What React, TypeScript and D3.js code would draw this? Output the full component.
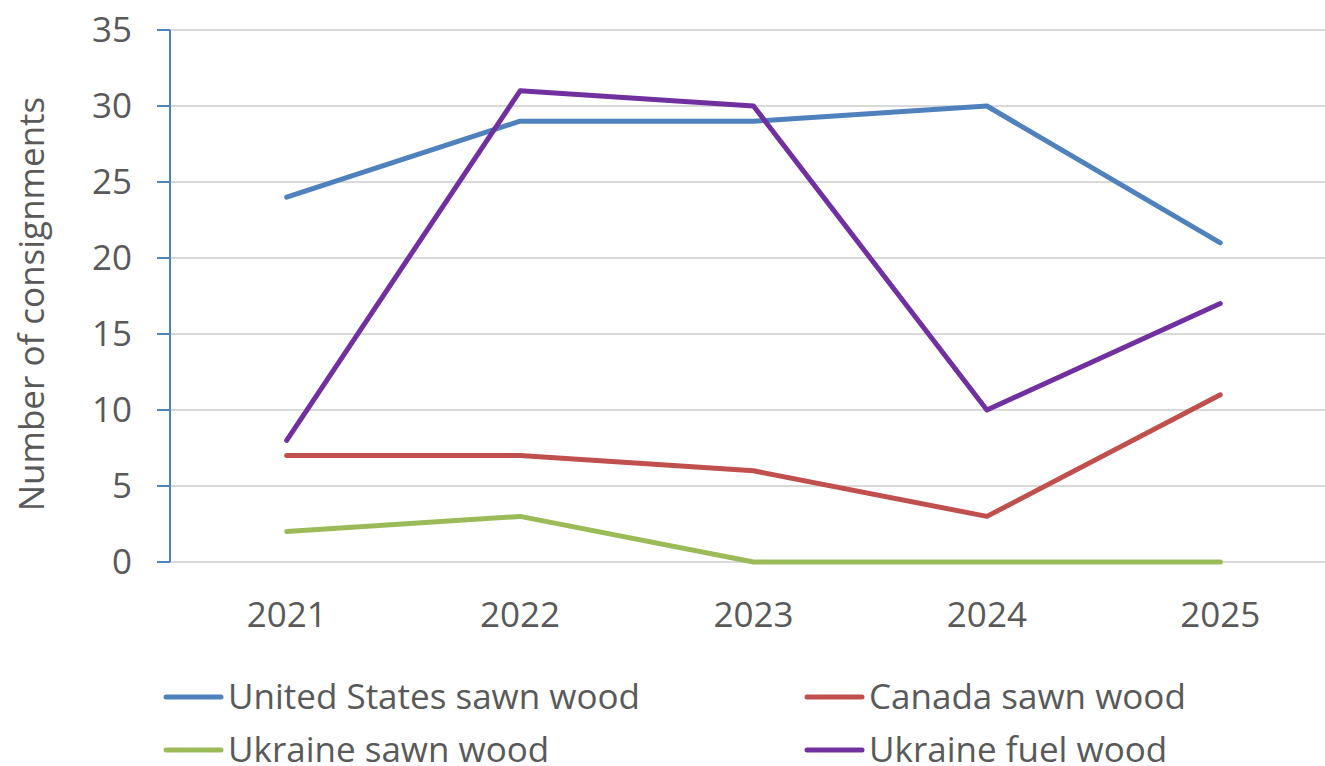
import React from "react";
import * as d3 from "d3";

const years = ["2021", "2022", "2023", "2024", "2025"];
const usSawn = [24, 29, 29, 30, 21];
const canadaSawn = [7, 7, 6, 3, 11];
const ukraineSawn = [2, 3, 0, 0, 0];
const ukraineFuel = [8, 31, 30, 10, 17];
const yTicks = [0, 5, 10, 15, 20, 25, 30, 35];

const seriesList = [
  { name: "United States sawn wood", values: usSawn, color: "#4f81bd" },
  { name: "Canada sawn wood", values: canadaSawn, color: "#c0504d" },
  { name: "Ukraine sawn wood", values: ukraineSawn, color: "#9bbb59" },
  { name: "Ukraine fuel wood", values: ukraineFuel, color: "#7030a0" },
];

const W = 1325;
const H = 766;
const plot = { left: 170, right: 1337, top: 30, bottom: 562 };
const FONT = "'Open Sans', 'Noto Sans', sans-serif";
const TEXT = "#595959";

export default function App() {
  const x = d3.scaleBand<string>().domain(years).range([plot.left, plot.right]).padding(0);
  const y = d3.scaleLinear().domain([0, 35]).range([plot.bottom, plot.top]);
  const cx = (yr: string) => (x(yr) as number) + x.bandwidth() / 2;
  const line = d3
    .line<number>()
    .x((_, i) => cx(years[i]))
    .y((v) => y(v));

  const legendPos = [
    { x: 166, y: 697 },
    { x: 807, y: 697 },
    { x: 166, y: 750 },
    { x: 807, y: 750 },
  ];

  return (
    <svg
      width={W}
      height={H}
      style={{ position: "absolute", left: 0, top: 0, background: "#fff" }}
      fontFamily={FONT}
    >
      {/* horizontal gridlines */}
      {yTicks.map((t) => (
        <line key={"g" + t} x1={plot.left} x2={W} y1={y(t)} y2={y(t)} stroke="#d9d9d9" strokeWidth={2} />
      ))}
      {/* value axis with ticks */}
      <line x1={plot.left} x2={plot.left} y1={y(35)} y2={y(0)} stroke="#4f81bd" strokeWidth={2} />
      {yTicks.map((t) => (
        <g key={"t" + t}>
          <line x1={157} x2={plot.left} y1={y(t)} y2={y(t)} stroke="#4f81bd" strokeWidth={2} />
          <text x={132} y={y(t)} dy="0.35em" textAnchor="end" fontSize={35} fill={TEXT}>
            {t}
          </text>
        </g>
      ))}
      {years.map((yr) => (
        <text key={yr} x={cx(yr)} y={627} textAnchor="middle" fontSize={35} fill={TEXT}>
          {yr}
        </text>
      ))}
      <text
        transform={`translate(44, 304) rotate(-90)`}
        textAnchor="middle"
        fontSize={35}
        fill={TEXT}
      >
        Number of consignments
      </text>
      {/* series lines */}
      {seriesList.map((s) => (
        <path
          key={s.name}
          d={line(s.values) || ""}
          fill="none"
          stroke={s.color}
          strokeWidth={5}
          strokeLinecap="round"
          strokeLinejoin="round"
        />
      ))}
      {/* legend */}
      {seriesList.map((s, i) => (
        <g key={"l" + s.name}>
          <line
            x1={legendPos[i].x}
            x2={legendPos[i].x + 55}
            y1={legendPos[i].y}
            y2={legendPos[i].y}
            stroke={s.color}
            strokeWidth={5}
            strokeLinecap="round"
          />
          <text x={legendPos[i].x + 62} y={legendPos[i].y} dy="0.35em" fontSize={35} fill={TEXT}>
            {s.name}
          </text>
        </g>
      ))}
    </svg>
  );
}
